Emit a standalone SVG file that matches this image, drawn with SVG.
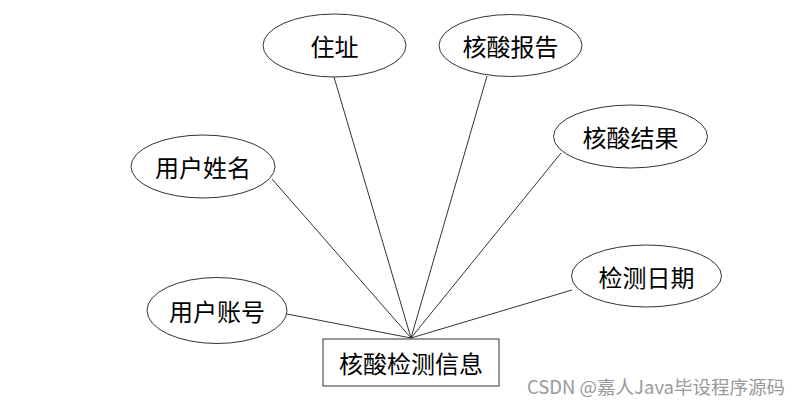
<svg xmlns="http://www.w3.org/2000/svg" width="810" height="410" viewBox="0 0 810 410">
<style>
.n ellipse,.n rect{fill:#fff;stroke:#333;stroke-width:1}
.n text{font-family:"Noto Sans CJK SC",sans-serif;font-size:24px;fill:#000;text-anchor:middle;dominant-baseline:central}
#edges line{stroke:#333;stroke-width:1}
.wm{font-family:"Noto Sans CJK SC","Liberation Sans",sans-serif;font-size:18.5px;fill:#999}
</style>
<rect width="810" height="410" fill="#fff"/>
<g id="edges">
<line x1="334" y1="77" x2="411" y2="338"/>
<line x1="487" y1="76" x2="411" y2="338"/>
<line x1="561" y1="153" x2="411" y2="338"/>
<line x1="272" y1="179" x2="411" y2="338"/>
<line x1="287" y1="314" x2="411" y2="338"/>
<line x1="572" y1="290" x2="411" y2="338"/>
</g>
<g id="n-zhuzhi" class="n"><ellipse cx="334.5" cy="45.5" rx="71.5" ry="31.5"/><text x="334.5" y="45.5">住址</text></g>
<g id="n-baogao" class="n"><ellipse cx="510.5" cy="45.5" rx="71.5" ry="31"/><text x="510.5" y="45.5">核酸报告</text></g>
<g id="n-jieguo" class="n"><ellipse cx="630.5" cy="136.5" rx="77" ry="31.5"/><text x="630.5" y="136.5">核酸结果</text></g>
<g id="n-xingming" class="n"><ellipse cx="203" cy="166.5" rx="72" ry="31.5"/><text x="203" y="166.5">用户姓名</text></g>
<g id="n-riqi" class="n"><ellipse cx="646.5" cy="276" rx="75" ry="31"/><text x="646.5" y="276">检测日期</text></g>
<g id="n-zhanghao" class="n"><ellipse cx="217" cy="310.5" rx="70" ry="33"/><text x="217" y="310.5">用户账号</text></g>
<g id="n-main" class="n"><rect x="323" y="339" width="176" height="47"/><text x="411" y="362.5">核酸检测信息</text></g>
<text class="wm" x="527" y="394">CSDN @嘉人Java毕设程序源码</text>
</svg>
